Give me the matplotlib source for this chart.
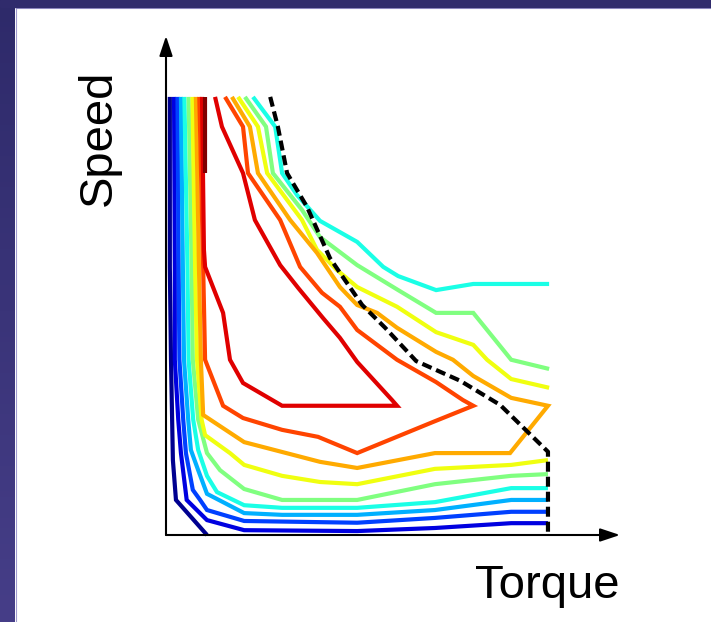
import numpy as np
import matplotlib.pyplot as plt
from matplotlib.patches import Rectangle
from matplotlib.colors import LinearSegmentedColormap

plt.rcParams['font.family'] = ['Liberation Sans', 'DejaVu Sans']

# efficiency contour colours, lowest level first
level_colors = ['#000090', '#0000e0', '#0040ff', '#00b0ff', '#1affe6', '#80ff80',
                '#f0ff10', '#ffaa00', '#ff4400', '#e00000', '#800000']

# contour traces, torque and speed in % of max
c0_torque = [1.0, 1.0, 1.3, 1.6, 1.8, 2.6, 10.7]
c0_speed = [100, 61.2, 40.0, 26.3, 17.1, 8.0, 0.0]

c1_torque = [2.1, 2.3, 2.3, 3.2, 3.9, 5.4, 10.7, 20.4, 49.9, 70.2, 90.1, 99.7]
c1_speed = [100, 61.2, 40.0, 26.3, 18.7, 8.0, 3.4, 1.1, 0.9, 1.6, 2.7, 2.7]

c2_torque = [3.0, 3.3, 3.5, 4.5, 5.2, 7.0, 8.9, 10.7, 20.4, 49.9, 70.2, 90.1, 99.7]
c2_speed = [100, 61.2, 40.0, 26.3, 18.7, 10.3, 8.0, 5.7, 3.2, 2.8, 3.9, 5.3, 5.3]

c3_torque = [3.9, 4.4, 4.7, 5.8, 6.5, 8.4, 10.7, 20.4, 30.3, 49.9, 70.2, 90.1, 99.7]
c3_speed = [100, 61.2, 40.0, 26.3, 19.4, 14.8, 9.4, 5.0, 4.6, 4.6, 5.7, 8.0, 8.0]

c4_torque = [4.8, 5.6, 5.9, 7.1, 8.4, 10.7, 13.3, 20.4, 30.3, 49.9, 70.2, 90.1, 99.7]
c4_speed = [100, 61.2, 40.0, 26.3, 19.4, 13.5, 9.8, 6.8, 6.2, 6.2, 7.5, 10.7, 10.7]
c4_upper_torque = [22.7, 28.5, 30.3, 34.2, 40.2, 49.9, 56.7, 60.6, 70.5, 80.2, 100.0]
c4_upper_speed = [100, 93.2, 82.6, 77.6, 71.7, 66.9, 61.2, 59.1, 55.9, 57.3, 57.3]

c5_torque = [5.9, 6.7, 7.0, 8.4, 10.7, 14.1, 20.4, 30.3, 49.9, 70.2, 90.1, 99.7]
c5_speed = [100, 61.2, 40.0, 26.3, 18.7, 14.8, 10.5, 8.0, 8.0, 11.6, 13.5, 13.9]
c5_upper_torque = [20.6, 26.1, 27.9, 35.5, 40.2, 49.9, 60.6, 70.5, 80.2, 90.1, 100.0]
c5_upper_speed = [100, 93.2, 82.6, 74.2, 68.0, 61.6, 55.9, 50.7, 50.7, 40.0, 37.9]

c6_torque = [6.9, 7.6, 8.1, 9.3, 10.2, 16.7, 20.4, 30.3, 40.2, 49.9, 70.2, 90.1, 99.7]
c6_speed = [100, 61.2, 40.0, 26.3, 22.8, 18.7, 16.0, 13.5, 12.1, 11.6, 15.1, 16.0, 17.1]
c6_upper_torque = [18.8, 24.0, 26.4, 35.5, 39.4, 44.6, 49.9, 60.3, 70.5, 80.2, 83.8, 90.1, 100.0]
c6_upper_speed = [100, 93.2, 82.6, 71.9, 65.1, 60.5, 56.6, 52.1, 46.3, 43.4, 40.0, 35.6, 33.6]

c7_torque = [7.8, 8.6, 9.1, 9.7, 20.4, 40.2, 49.9, 70.2, 89.8, 99.7, 90.1, 80.2, 74.9,
             70.5, 60.3, 55.1, 49.9, 45.4, 39.4, 32.4, 24.0, 21.9, 17.2]
c7_speed = [100, 61.2, 40.0, 27.4, 21.2, 16.7, 15.3, 18.7, 18.7, 29.5, 31.3, 36.3, 40.0,
            41.8, 47.3, 50.7, 52.5, 56.6, 64.4, 71.9, 82.6, 93.2, 100]

c8_torque = [8.7, 9.7, 10.2, 14.9, 20.1, 30.3, 39.7, 49.9, 69.7, 80.2, 77.5, 70.5, 60.3,
             49.9, 45.4, 40.7, 35.0, 29.8, 21.4, 20.1, 15.4]
c8_speed = [100, 61.2, 40.0, 29.5, 26.7, 24.0, 22.4, 18.7, 25.8, 29.5, 30.8, 34.9, 40.0,
            46.8, 52.1, 55.3, 61.2, 71.9, 82.6, 93.2, 100]

c9_torque = [9.4, 9.9, 10.2, 14.9, 16.7, 20.1, 30.3, 60.3, 59.0, 49.9, 45.4, 41.0, 34.5,
             29.8, 23.2, 20.1, 14.6, 12.8]
c9_speed = [100, 65.1, 61.2, 50.7, 40.0, 34.7, 29.5, 29.5, 30.8, 39.5, 45.0, 49.5, 56.4,
            61.6, 71.9, 82.6, 93.2, 100]

c10_torque = [10.1, 10.1]
c10_speed = [100, 82.6]

# max torque / speed envelope
limit_torque = [27.2, 29.2, 31.6, 36.8, 42.8, 46.7, 51.2, 57.2, 65.3, 76.8, 87.2, 99.7, 99.7]
limit_speed = [100, 93.2, 82.6, 74.9, 63.2, 58.2, 52.5, 47.3, 39.7, 35.2, 29.7, 19.0, 0.0]

contours = [
    (0, c0_torque, c0_speed),
    (1, c1_torque, c1_speed),
    (2, c2_torque, c2_speed),
    (3, c3_torque, c3_speed),
    (4, c4_torque, c4_speed),
    (4, c4_upper_torque, c4_upper_speed),
    (5, c5_torque, c5_speed),
    (5, c5_upper_torque, c5_upper_speed),
    (6, c6_torque, c6_speed),
    (6, c6_upper_torque, c6_upper_speed),
    (7, c7_torque, c7_speed),
    (8, c8_torque, c8_speed),
    (9, c9_torque, c9_speed),
    (10, c10_torque, c10_speed),
]

W, H = 711, 622
fig = plt.figure(figsize=(W / 100, H / 100), dpi=100)
fig.patch.set_facecolor('white')

# slide frame: purple strip on the left and top
band = fig.add_axes([0, 0, 15 / W, 1])
grad = np.linspace(0, 1, 256).reshape(-1, 1)
band.imshow(grad, aspect='auto', origin='upper',
            cmap=LinearSegmentedColormap.from_list('frame', ['#2e2a6a', '#463e88']))
band.axis('off')
fig.add_artist(Rectangle((0, 1 - 7 / H), 1, 7 / H, transform=fig.transFigure,
                         color='#302b6c', zorder=5))
fig.add_artist(plt.Line2D([15.5 / W, 15.5 / W], [0, 1 - 7 / H], transform=fig.transFigure,
                          color='#a09ad0', lw=0.8))
fig.add_artist(plt.Line2D([15.5 / W, 1], [1 - 7.5 / H, 1 - 7.5 / H], transform=fig.transFigure,
                          color='#a09ad0', lw=0.8))

ax = fig.add_axes([166 / W, 87 / H, 454 / W, 499 / H])
ax.set_xlim(0, 118.5)
ax.set_ylim(0, 113.9)
ax.axis('off')

for lvl, t, s in contours:
    ax.plot(t, s, color=level_colors[lvl], lw=3.0, solid_capstyle='butt',
            solid_joinstyle='miter', clip_on=False)

ax.plot(limit_torque, limit_speed, color='black', lw=3.0, dashes=(2.4, 1.2),
        dash_capstyle='butt', clip_on=False, zorder=4)

# arrowed axes
arrow = dict(arrowstyle='-|>,head_length=0.6,head_width=0.2', color='black',
             lw=1.5, mutation_scale=20, shrinkA=0, shrinkB=0)
ax.annotate('', xy=(118.5, 0), xytext=(0, 0), arrowprops=arrow, annotation_clip=False)
ax.annotate('', xy=(0, 113.9), xytext=(0, 0), arrowprops=arrow, annotation_clip=False)

fig.text(547 / W, 1 - 585.5 / H, 'Torque', fontsize=34, ha='center', va='center')
fig.text(99 / W, 1 - 138 / H, 'Speed', fontsize=34, rotation=90, ha='center', va='center')

fig.savefig('out.png', dpi=100)
